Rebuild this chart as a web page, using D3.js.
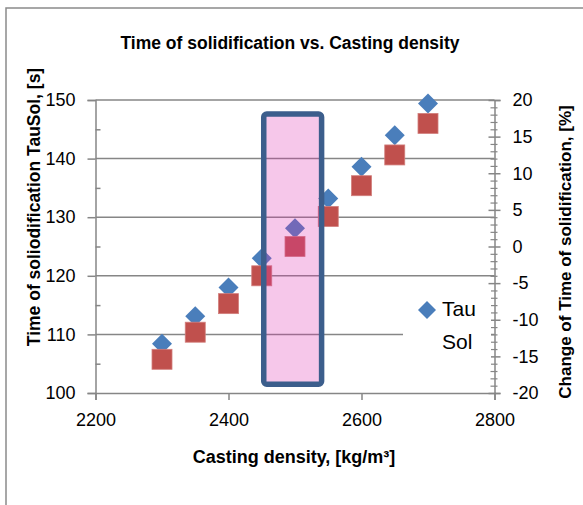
<!DOCTYPE html>
<html>
<head>
<meta charset="utf-8">
<script src="https://cdnjs.cloudflare.com/ajax/libs/d3/7.8.5/d3.min.js"></script>
<style>
  html, body { margin: 0; padding: 0; background: #fff; }
  svg { display: block; font-family: "Liberation Sans", Arial, sans-serif; }
</style>
</head>
<body>
<svg id="chart" width="583" height="505"></svg>
<script>
// Casting density [kg/m3]
const density = [2300, 2350, 2400, 2450, 2500, 2550, 2600, 2650, 2700];
// Time of solidification TauSol [s] (left axis)
const tauSol = [108.4, 113.1, 118.0, 123.0, 128.1, 133.2, 138.6, 144.0, 149.4];
// Change of time of solidification [%] (right axis)
const changePct = [-15.4, -11.7, -7.8, -4.0, 0.0, 4.1, 8.3, 12.5, 16.8];

// Axis ticks
const xTicks = [2200, 2400, 2600, 2800];
const yLeftTicks = [100, 110, 120, 130, 140, 150];
const yRightTicks = [-20, -15, -10, -5, 0, 5, 10, 15, 20];

// Highlighted density window (x in kg/m3, y on the TauSol axis)
const bandDensity = [2453, 2540];
const bandTau = [101.5, 147.6];

const legendLines = ["Tau", "Sol"];

const svg = d3.select("#chart");
const axisColor = "#868686";
const plainNum = d => String(d); // hyphen minus, no thousands separator

const x = d3.scaleLinear().domain([2200, 2800]).range([95.5, 494.5]);
const yL = d3.scaleLinear().domain([100, 150]).range([393, 100]);
const yR = d3.scaleLinear().domain([-20, 20]).range([393, 100]);

// outer chart border
svg.append("rect")
  .attr("x", 6).attr("y", 8).attr("width", 620).attr("height", 620)
  .attr("fill", "none").attr("stroke", "#8a8a8a").attr("stroke-width", 1.5);

// title
svg.append("text")
  .attr("x", 290).attr("y", 49)
  .attr("text-anchor", "middle")
  .attr("font-weight", "bold").attr("font-size", 17.5)
  .attr("fill", "#000")
  .text("Time of solidification vs. Casting density");

// horizontal gridlines
svg.append("g").selectAll("line")
  .data(yLeftTicks.filter(d => d > 100))
  .join("line")
  .attr("x1", x(2200)).attr("x2", x(2800))
  .attr("y1", d => yL(d)).attr("y2", d => yL(d))
  .attr("stroke", axisColor).attr("stroke-width", 1.5);

function styleTicks(g) {
  g.selectAll(".tick text").attr("font-size", 18).attr("fill", "#000")
    .attr("font-family", "Liberation Sans, Arial, sans-serif");
}

// left axis
const gL = svg.append("g").attr("transform", `translate(${x(2200)},0)`);
gL.call(d3.axisLeft(yL).tickValues(yLeftTicks).tickFormat(plainNum).tickSize(8).tickPadding(12));
gL.select(".domain").attr("stroke", axisColor).attr("stroke-width", 1.5);
gL.selectAll(".tick line").attr("stroke", axisColor).attr("stroke-width", 1.5);
styleTicks(gL);
// left minor ticks (inside)
const gLm = svg.append("g").attr("transform", `translate(${x(2200)},0)`);
gLm.call(d3.axisRight(yL).tickValues(d3.range(105, 150, 10)).tickSize(5).tickFormat(""));
gLm.select(".domain").remove();
gLm.selectAll(".tick line").attr("stroke", axisColor).attr("stroke-width", 1.5);

// right axis
const gR = svg.append("g").attr("transform", `translate(${x(2800)},0)`);
gR.call(d3.axisRight(yR).tickValues(yRightTicks).tickFormat(plainNum).tickSize(6).tickPadding(12));
gR.select(".domain").attr("stroke", axisColor).attr("stroke-width", 1.5);
gR.selectAll(".tick line").attr("stroke", axisColor).attr("stroke-width", 1.5)
  .attr("x1", -6);
styleTicks(gR);
// right minor ticks
const gRm = svg.append("g").attr("transform", `translate(${x(2800)},0)`);
gRm.call(d3.axisLeft(yR).tickValues(d3.range(-20, 21, 1).filter(d => d % 5 !== 0)).tickSize(5).tickFormat(""));
gRm.select(".domain").remove();
gRm.selectAll(".tick line").attr("stroke", axisColor).attr("stroke-width", 1.2).attr("x2", 3).attr("x1", -4);

// bottom axis
const gB = svg.append("g").attr("transform", `translate(0,${yL(100)})`);
gB.call(d3.axisBottom(x).tickValues(xTicks).tickFormat(plainNum).tickSize(7).tickPadding(13));
gB.select(".domain").attr("stroke", axisColor).attr("stroke-width", 1.5);
gB.selectAll(".tick line").attr("stroke", axisColor).attr("stroke-width", 1.5);
styleTicks(gB);

// axis titles
svg.append("text")
  .attr("x", 294).attr("y", 463)
  .attr("text-anchor", "middle")
  .attr("font-weight", "bold").attr("font-size", 18)
  .text("Casting density, [kg/m³]");

svg.append("text")
  .attr("transform", "translate(40,207) rotate(-90)")
  .attr("text-anchor", "middle")
  .attr("font-weight", "bold").attr("font-size", 17.5)
  .text("Time of soliodification TauSol, [s]");

svg.append("text")
  .attr("transform", "translate(571,252) rotate(-90)")
  .attr("text-anchor", "middle")
  .attr("font-weight", "bold").attr("font-size", 17)
  .text("Change of Time of solidification, [%]");

// markers
const half = 10;
const diamondPath = `M0,${-half}L${half},0L0,${half}L${-half},0Z`;

svg.append("g").selectAll("path")
  .data(density.map((d, i) => [d, tauSol[i]]))
  .join("path")
  .attr("d", diamondPath)
  .attr("transform", d => `translate(${x(d[0])},${yL(d[1])})`)
  .attr("fill", "#4A7EBB");

svg.append("g").selectAll("rect")
  .data(density.map((d, i) => [d, changePct[i]]))
  .join("rect")
  .attr("x", d => x(d[0]) - 10).attr("y", d => yR(d[1]) - 10)
  .attr("width", 20).attr("height", 20)
  .attr("fill", "#C0504D")
  .attr("stroke", "#D27E7C").attr("stroke-width", 0.8);

// highlight window
svg.append("rect")
  .attr("x", x(bandDensity[0])).attr("y", yL(bandTau[1]))
  .attr("width", x(bandDensity[1]) - x(bandDensity[0]))
  .attr("height", yL(bandTau[0]) - yL(bandTau[1]))
  .attr("rx", 3).attr("ry", 3)
  .attr("fill", "rgba(222,48,176,0.27)")
  .attr("stroke", "#3C5E8C").attr("stroke-width", 5.5);

// legend
const lg = svg.append("g");
lg.append("rect")
  .attr("x", 403).attr("y", 290).attr("width", 88).attr("height", 78)
  .attr("fill", "#fff");
lg.append("path")
  .attr("d", `M0,-9L9,0L0,9L-9,0Z`)
  .attr("transform", "translate(427,310)")
  .attr("fill", "#4A7EBB");
lg.selectAll("text.leg")
  .data(legendLines)
  .join("text")
  .attr("class", "leg")
  .attr("x", 442).attr("y", (d, i) => 316 + i * 33)
  .attr("font-size", 21).attr("fill", "#000")
  .text(d => d);
</script>
</body>
</html>
